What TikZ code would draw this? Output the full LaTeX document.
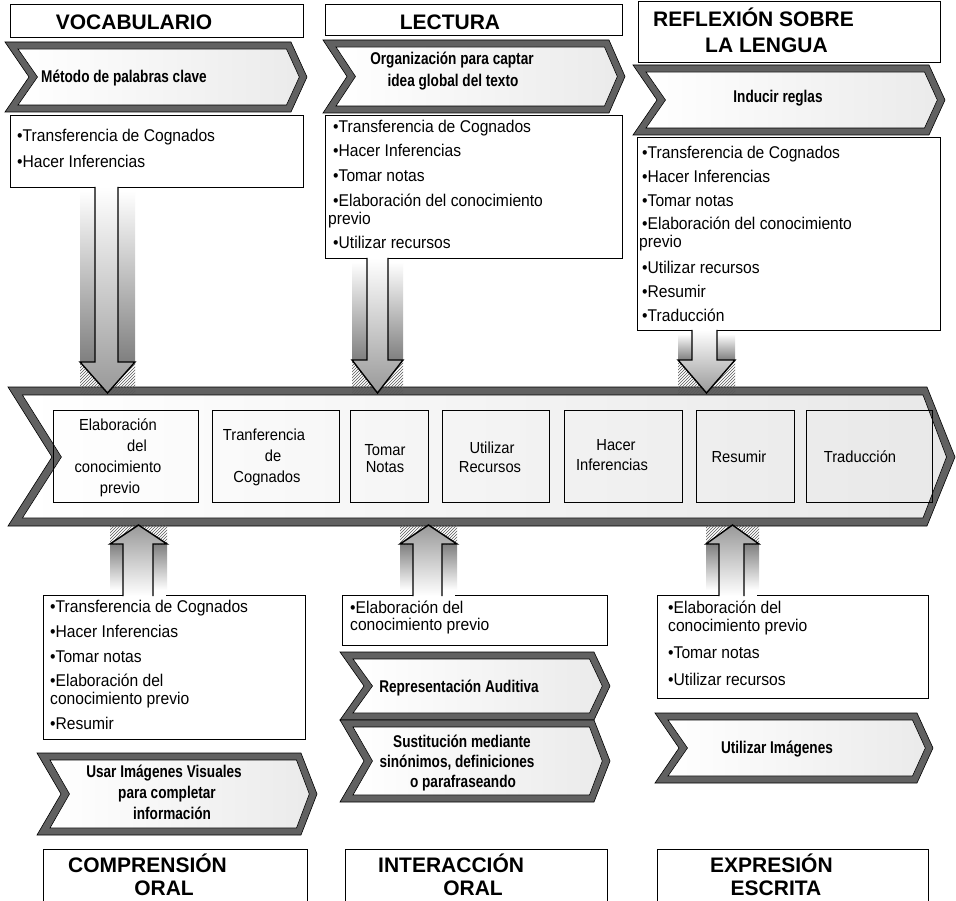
\documentclass[tikz,border=0pt]{standalone}
\usepackage{fontspec}
\setmainfont{Liberation Sans}
\newfontfamily\listfont[FakeStretch=0.92]{Liberation Sans}
\newfontfamily\bandfont[FakeStretch=0.92]{Liberation Sans}
\newfontfamily\chevfont[FakeStretch=0.8]{Liberation Sans}
\usetikzlibrary{patterns}
\definecolor{chevborder}{gray}{0.38}
\tikzset{
  hbox/.style={draw=black, line width=0.9, inner sep=0, outer sep=0, anchor=north west},
  lbox/.style={draw=black, line width=0.9, inner sep=0, outer sep=0, anchor=north west},
  bbox/.style={draw=black, line width=1.0, inner sep=0, outer sep=0, anchor=north west},
  item/.style={anchor=base west, inner sep=0, font=\listfont\fontsize{17}{17}\selectfont},
  ttl/.style={anchor=base, inner sep=0, font=\bfseries\fontsize{21}{21}\selectfont},
  ctext/.style={anchor=base, inner sep=0, font=\chevfont\bfseries\fontsize{17}{17}\selectfont},
  btext/.style={anchor=base, inner sep=0, font=\bandfont\fontsize{16}{16}\selectfont},
}
% chevron banner: x1 y1 x2 y2
\newcommand{\chev}[4]{%
  \pgfmathsetmacro\cym{(#2+#4)/2}%
  \path[fill=chevborder, draw=black, line width=0.6] (#1,#2) -- ({#3-16},#2) -- (#3,\cym) -- ({#3-16},#4) -- (#1,#4) -- ({#1+24},\cym) -- cycle;
  \path[left color=white, right color=black!8, draw=black, line width=0.6] ({#1+13},{#2+7}) -- ({#3-20.5},{#2+7}) -- ({#3-7.7},\cym) -- ({#3-20.5},{#4-7}) -- ({#1+13},{#4-7}) -- ({#1+32.5},\cym) -- cycle;
}
% down block arrow: sL sR hL hR sTop hBase tip
\newcommand{\darrow}[7]{%
  \pgfmathsetmacro\tipx{(#3+#4)/2}%
  \shade[top color=white, bottom color=black!50] (#3,{#5+4}) rectangle (#4,#6);
  \fill[pattern=north east lines, pattern color=black!65] (#3,#6) rectangle (#4,#7);
  \path[draw=black, line width=1.4, top color=white, bottom color=black!40] (#1,#5) -- (#1,#6) -- (#3,#6) -- (\tipx,#7) -- (#4,#6) -- (#2,#6) -- (#2,#5);
}
% up block arrow: sL sR hL hR sBottom hBase tip
\newcommand{\uarrow}[7]{%
  \pgfmathsetmacro\tipx{(#3+#4)/2}%
  \shade[top color=black!50, bottom color=white] (#3,#6) rectangle (#4,{#5-6});
  \fill[pattern=north east lines, pattern color=black!65] (#3,#7) rectangle (#4,#6);
  \path[draw=black, line width=1.4, top color=black!40, bottom color=white] (#1,#5) -- (#1,#6) -- (#3,#6) -- (\tipx,#7) -- (#4,#6) -- (#2,#6) -- (#2,#5);
}
\begin{document}
\begin{tikzpicture}[x=1pt, y=-1pt]
\useasboundingbox (0,0) rectangle (956,901);
\fill[white] (0,0) rectangle (956,901);

% ===== central band =====
\path[fill=chevborder, draw=black, line width=0.6] (8,387) -- (927,387) -- (955,457) -- (927,526) -- (8,526) -- (52,457) -- cycle;
\path[left color=white, right color=black!9, draw=black, line width=0.6] (22.4,395) -- (923,395) -- (946.5,457) -- (923,518) -- (22.4,518) -- (61.4,457) -- cycle;

\node[bbox, minimum width=145, minimum height=92] (b1) at (53,410) {};
\node[bbox, minimum width=127, minimum height=92] (b2) at (212,410) {};
\node[bbox, minimum width=78, minimum height=92] (b3) at (350,410) {};
\node[bbox, minimum width=107, minimum height=92] (b4) at (442,410) {};
\node[bbox, minimum width=118, minimum height=92] (b5) at (564,410) {};
\node[bbox, minimum width=98, minimum height=92] (b6) at (696,410) {};
\node[bbox, minimum width=126, minimum height=92] (b7) at (806,410) {};

\node[btext] (b1a) at (118,430) {Elaboración};
\node[btext] (b1b) at (137,451) {del};
\node[btext] (b1c) at (118,472) {conocimiento};
\node[btext] (b1d) at (120,493) {previo};
\node[btext] (b2a) at (264,440) {Tranferencia};
\node[btext] (b2b) at (273,461) {de};
\node[btext] (b2c) at (267,482) {Cognados};
\node[btext] (b3a) at (385,455) {Tomar};
\node[btext] (b3b) at (385,472) {Notas};
\node[btext] (b4a) at (492,453) {Utilizar};
\node[btext] (b4b) at (490,472) {Recursos};
\node[btext] (b5a) at (616,450) {Hacer};
\node[btext] (b5b) at (612,470) {Inferencias};
\node[btext] (b6a) at (739,462) {Resumir};
\node[btext] (b7a) at (860,462) {Traducción};

% ===== top titles =====
\node[hbox, minimum width=293, minimum height=33] (tVoc) at (10,4) {};
\node[ttl] (tVocT) at (134,30) {VOCABULARIO};
\node[hbox, minimum width=297, minimum height=31] (tLec) at (325,4) {};
\node[ttl] (tLecT) at (450,30) {LECTURA};
\node[hbox, minimum width=302, minimum height=61] (tRef) at (638,1) {};
\node[ttl, anchor=base west] (tRefT1) at (653,27) {REFLEXIÓN SOBRE};
\node[ttl, anchor=base west] (tRefT2) at (705,53) {LA LENGUA};

% ===== top chevrons =====
\chev{5}{42}{307}{112}
\node[ctext] (cVoc) at (124,83) {Método de palabras clave};
\chev{323}{40}{625}{113}
\node[ctext] (cLec1) at (452,65) {Organización para captar};
\node[ctext] (cLec2) at (453,87) {idea global del texto};
\chev{633}{65}{945}{135}
\node[ctext] (cRef) at (778,103) {Inducir reglas};

% ===== top lists =====
\node[lbox, minimum width=293, minimum height=72] (lVoc) at (10,115) {};
\node[item] (v1) at (17,142) {•Transferencia de Cognados};
\node[item] (v2) at (17,168) {•Hacer Inferencias};

\node[lbox, minimum width=297, minimum height=143] (lLec) at (325,115) {};
\node[item] (l1) at (333,133) {•Transferencia de Cognados};
\node[item] (l2) at (333,157) {•Hacer Inferencias};
\node[item] (l3) at (333,182) {•Tomar notas};
\node[item] (l4) at (333,207) {•Elaboración del conocimiento};
\node[item] (l4b) at (328,225) {previo};
\node[item] (l5) at (333,249) {•Utilizar recursos};

\node[lbox, minimum width=303, minimum height=193] (lRef) at (637,137) {};
\node[item] (r1) at (642,159) {•Transferencia de Cognados};
\node[item] (r2) at (642,183) {•Hacer Inferencias};
\node[item] (r3) at (642,207) {•Tomar notas};
\node[item] (r4) at (642,230) {•Elaboración del conocimiento};
\node[item] (r4b) at (639,248) {previo};
\node[item] (r5) at (642,274) {•Utilizar recursos};
\node[item] (r6) at (642,298) {•Resumir};
\node[item] (r7) at (642,322) {•Traducción};

% ===== down arrows =====
\darrow{95}{118}{80}{135}{187}{362}{393}
\darrow{367}{388}{352}{403}{258}{360}{393}
\darrow{692}{717}{678}{735}{330}{360}{393}

% ===== bottom lists =====
\node[lbox, minimum width=262, minimum height=144] (lCom) at (43,595) {};
\node[item] (c1) at (50,612) {•Transferencia de Cognados};
\node[item] (c2) at (50,637) {•Hacer Inferencias};
\node[item] (c3) at (50,662) {•Tomar notas};
\node[item] (c4) at (50,686) {•Elaboración del};
\node[item] (c4b) at (50,704) {conocimiento previo};
\node[item] (c5) at (50,729) {•Resumir};

\node[lbox, minimum width=265, minimum height=50] (lInt) at (342,595) {};
\node[item] (i1) at (350,613) {•Elaboración del};
\node[item] (i1b) at (350,630) {conocimiento previo};

\node[lbox, minimum width=271, minimum height=103] (lExp) at (657,595) {};
\node[item] (e1) at (668,613) {•Elaboración del};
\node[item] (e1b) at (668,631) {conocimiento previo};
\node[item] (e2) at (668,658) {•Tomar notas};
\node[item] (e3) at (668,685) {•Utilizar recursos};

% gaps in the box tops where the arrows leave
\draw[white, line width=2.5] (123,595) -- (166,595);
\draw[white, line width=2.5] (413,595) -- (455,595);
\draw[white, line width=2.5] (719,595) -- (757,595);

% ===== up arrows =====
\uarrow{123}{153}{110}{167}{596}{544}{525}
\uarrow{413}{442}{400}{457}{596}{544}{525}
\uarrow{719}{744}{706}{759}{596}{544}{525}

% ===== bottom chevrons =====
\chev{37}{753}{317}{835}
\node[ctext] (cCom1) at (164,777) {Usar Imágenes Visuales};
\node[ctext] (cCom2) at (167,798) {para completar};
\node[ctext] (cCom3) at (172,819) {información};
\chev{340}{652}{610}{720}
\node[ctext] (cInt1) at (459,692) {Representación Auditiva};
\chev{340}{720}{610}{802}
\node[ctext] (cInt2) at (462,747) {Sustitución mediante};
\node[ctext] (cInt3) at (457,767) {sinónimos, definiciones};
\node[ctext] (cInt4) at (463,787) {o parafraseando};
\chev{655}{713}{933}{783}
\node[ctext] (cExp) at (777,753) {Utilizar Imágenes};

% ===== bottom titles =====
\node[hbox, minimum width=264, minimum height=60] (tCom) at (43,849) {};
\node[ttl, anchor=base west] (tCom1) at (68,872) {COMPRENSIÓN};
\node[ttl] (tCom2) at (164,895) {ORAL};
\node[hbox, minimum width=262, minimum height=60] (tInt) at (345,849) {};
\node[ttl, anchor=base west] (tInt1) at (378,872) {INTERACCIÓN};
\node[ttl] (tInt2) at (473,895) {ORAL};
\node[hbox, minimum width=271, minimum height=60] (tExp) at (657,849) {};
\node[ttl, anchor=base west] (tExp1) at (710,872) {EXPRESIÓN};
\node[ttl] (tExp2) at (776,895) {ESCRITA};
\end{tikzpicture}
\end{document}
